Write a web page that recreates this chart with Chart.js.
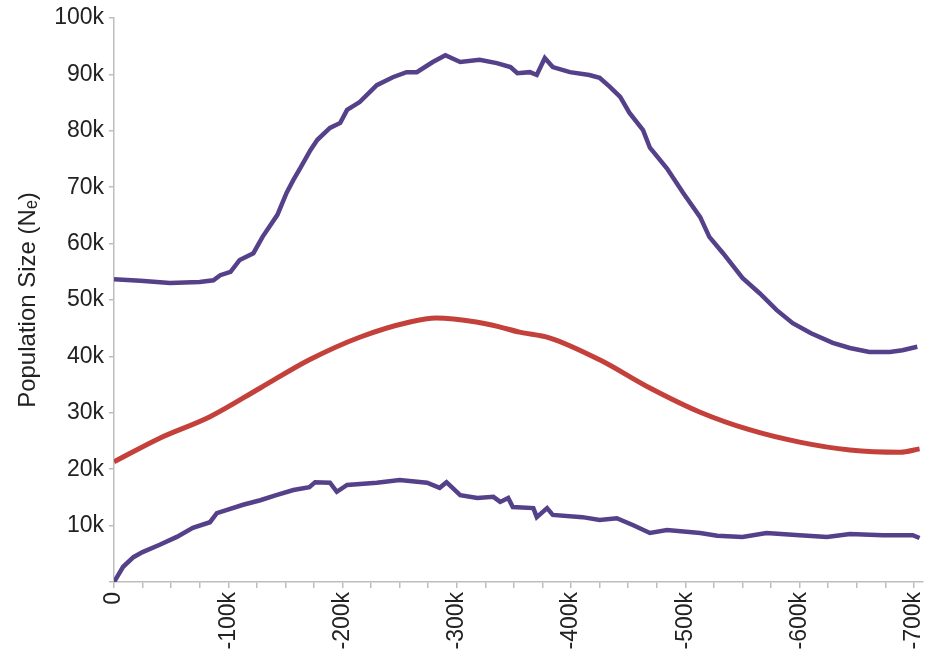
<!DOCTYPE html>
<html>
<head>
<meta charset="utf-8">
<script src="https://cdn.jsdelivr.net/npm/chart.js@4.4.0/dist/chart.umd.min.js"></script>
<style>
    html, body { margin: 0; padding: 0; background: #fff; }
    #wrap { width: 927px; height: 659px; }
</style>
</head>
<body>
<div id="wrap"><canvas id="chart" width="927" height="659"></canvas></div>
<script>
// time in thousands of years (negative = past), sizes in thousands
var upperX = [0, -23, -49, -75, -87, -93, -102, -110, -122, -130, -143, -151, -157, -163, -172, -178, -189, -198, -204, -215,
    -230, -244, -256, -265, -279, -290, -303, -320, -335, -347, -353, -364, -370, -377, -384, -399, -416, -425, -434, -443,
    -451, -463, -469, -484, -498, -513, -521, -533, -550, -565, -580, -594, -610, -629, -644, -661, -679, -690, -703];
var upperY = [53.7, 53.4, 53.0, 53.2, 53.5, 54.4, 55.0, 57.1, 58.3, 61.2, 65.1, 69.0, 71.3, 73.4, 76.6, 78.4, 80.5, 81.4, 83.7, 85.1,
    88.1, 89.5, 90.4, 90.4, 92.2, 93.4, 92.2, 92.6, 92.0, 91.3, 90.2, 90.4, 89.9, 92.9, 91.3, 90.4, 89.9, 89.4, 87.8, 86.0,
    83.2, 80.1, 77.0, 73.3, 69.0, 64.7, 61.2, 58.3, 53.9, 51.2, 48.2, 45.9, 44.1, 42.4, 41.5, 40.8, 40.8, 41.1, 41.7];

var meanX = [0, -40, -84, -128, -171, -215, -259, -282, -317, -338, -355, -381, -425, -469, -513, -556, -600, -644, -688, -705];
var meanY = [21.3, 25.5, 29.3, 34.4, 39.4, 43.4, 46.1, 46.8, 46.1, 45.2, 44.3, 43.3, 39.4, 34.4, 30.1, 27.0, 24.8, 23.4, 23.0, 23.6];

var lowerX = [0, -8, -17, -25, -40, -55, -69, -84, -90, -99, -113, -128, -142, -157, -171, -176, -189, -195, -204, -230,
    -250, -274, -285, -291, -303, -318, -332, -338, -345, -349, -367, -370, -379, -384, -410, -425, -440, -454, -469, -484,
    -513, -528, -550, -571, -600, -624, -644, -673, -699, -705];
var lowerY = [0, 2.7, 4.4, 5.3, 6.6, 8.0, 9.6, 10.6, 12.2, 12.8, 13.7, 14.5, 15.4, 16.3, 16.8, 17.7, 17.6, 16.0, 17.2, 17.6,
    18.1, 17.6, 16.7, 17.7, 15.4, 14.9, 15.1, 14.2, 14.9, 13.3, 13.1, 11.5, 13.1, 11.9, 11.5, 11.0, 11.3, 10.1, 8.7, 9.2,
    8.7, 8.2, 8.0, 8.7, 8.3, 8.0, 8.5, 8.3, 8.3, 7.8];

var xTicks = [0, -25, -50, -75, -100, -125, -150, -175, -200, -225, -250, -275, -300, -325, -350, -375, -400,
    -425, -450, -475, -500, -525, -550, -575, -600, -625, -650, -675, -700];

var purple = '#55408a';
var red = '#c4413b';
var axisGray = '#bdbdbd';
var font = 'Liberation Sans, Arial, sans-serif';

function toPoints(xs, ys) {
    return xs.map(function(x, i) {
        return { x: x, y: ys[i] };
    });
}

var ctx = document.getElementById('chart').getContext('2d');
new Chart(ctx, {
    type: 'line',
    data: {
        datasets: [{
            label: 'upper',
            data: toPoints(upperX, upperY),
            borderColor: purple,
            borderWidth: 4.5,
            pointRadius: 0,
            tension: 0
        }, {
            label: 'mean',
            data: toPoints(meanX, meanY),
            borderColor: red,
            borderWidth: 5,
            pointRadius: 0,
            cubicInterpolationMode: 'monotone'
        }, {
            label: 'lower',
            data: toPoints(lowerX, lowerY),
            borderColor: purple,
            borderWidth: 4.5,
            pointRadius: 0,
            tension: 0
        }]
    },
    options: {
        responsive: false,
        animation: false,
        layout: { padding: { top: 18, right: 4, left: 0, bottom: 0 } },
        plugins: {
            legend: { display: false },
            tooltip: { enabled: false }
        },
        scales: {
            x: {
                type: 'linear',
                reverse: true,
                min: -708,
                max: 0,
                border: { color: axisGray, width: 1.5 },
                grid: { drawOnChartArea: false, drawTicks: true, tickLength: 6, color: axisGray, lineWidth: 1.5 },
                ticks: {
                    autoSkip: false,
                    minRotation: 90,
                    maxRotation: 90,
                    padding: 4,
                    color: '#222',
                    font: { family: font, size: 23 },
                    callback: function(v) {
                        if (v % 100 !== 0) return '';
                        return v === 0 ? '0' : v + 'k';
                    }
                },
                afterBuildTicks: function(scale) {
                    scale.ticks = xTicks.map(function(v) { return { value: v }; });
                },
                afterFit: function(scale) {
                    scale.height = 77;
                    scale.paddingLeft = 0;
                    scale.paddingRight = 0;
                }
            },
            y: {
                min: 0,
                max: 100,
                border: { color: axisGray, width: 1.5 },
                grid: { drawOnChartArea: false, drawTicks: true, tickLength: 5, color: axisGray, lineWidth: 1.5 },
                ticks: {
                    stepSize: 10,
                    padding: 5,
                    color: '#222',
                    font: { family: font, size: 23 },
                    callback: function(v) {
                        return v === 0 ? '' : v + 'k';
                    }
                },
                title: {
                    display: true,
                    text: 'Population Size (N\u2091)',
                    color: '#222',
                    padding: { top: 14, bottom: 4 },
                    font: { family: font, size: 24 }
                },
                afterFit: function(scale) {
                    scale.width = 114;
                    scale.paddingTop = 0;
                    scale.paddingBottom = 0;
                }
            }
        }
    }
});
</script>
</body>
</html>
